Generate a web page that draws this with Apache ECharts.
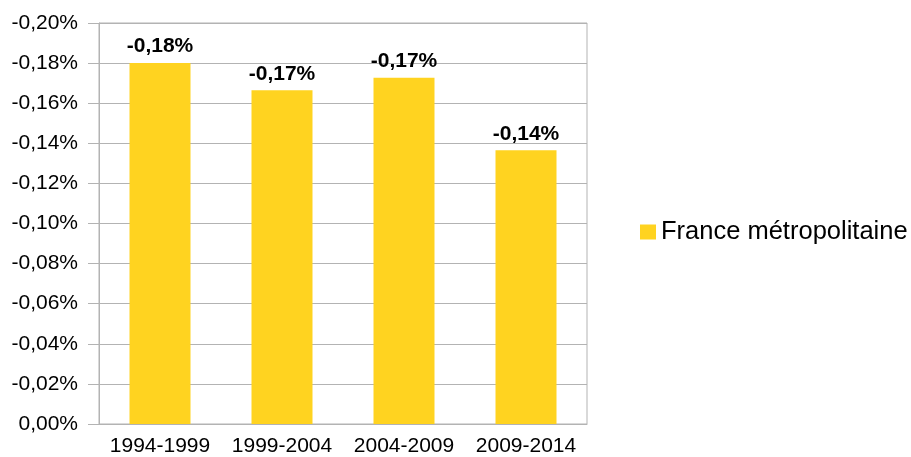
<!DOCTYPE html>
<html lang="fr">
<head>
    <meta charset="UTF-8" />
    <title>France métropolitaine</title>
    <script src="https://cdn.jsdelivr.net/npm/echarts@6.0.0/dist/echarts.min.js"></script>
    <style>
        html, body { margin: 0; padding: 0; background: #fff; }
    </style>
</head>
<body>
    <div id="main" style="width: 911px; height: 457px;"></div>

    <script>
        const periods = ['1994-1999', '1999-2004', '2004-2009', '2009-2014'];
        const seriesName = 'France métropolitaine';
        const rates = [-0.1801, -0.1664, -0.1727, -0.1365];

        const fmt = v => {
            const s = Math.abs(v) < 1e-9 ? '0,00' : v.toFixed(2).replace('.', ',');
            return s + '%';
        };

        const myChart = echarts.init(document.getElementById('main'));
        const gray = '#b3b3b3';
        const font = '"Liberation Sans", Arial, sans-serif';

        const options = {
            animation: false,
            textStyle: { fontFamily: font },
            grid: {
                left: 99, right: 324, top: 23, bottom: 31,
                show: true, borderColor: gray, borderWidth: 1,
                containLabel: false
            },
            legend: {
                left: 635, top: 214,
                itemWidth: 16, itemHeight: 15,
                itemGap: 10,
                icon: 'rect',
                textStyle: { fontSize: 25.5, color: '#000', fontFamily: font },
                data: [seriesName]
            },
            xAxis: {
                type: 'category',
                data: periods,
                axisLine: { lineStyle: { color: gray } },
                axisTick: { inside: true, length: 11, lineStyle: { color: gray } },
                axisLabel: { interval: 0, color: '#000', fontSize: 21, margin: 12, fontFamily: font }
            },
            yAxis: {
                type: 'value',
                inverse: true,
                min: -0.2,
                max: 0,
                interval: 0.02,
                axisLine: { show: true, lineStyle: { color: gray } },
                axisTick: { show: true, length: 11, lineStyle: { color: gray } },
                splitLine: { lineStyle: { color: gray } },
                axisLabel: { color: '#000', fontSize: 21, margin: 21, fontFamily: font, formatter: fmt }
            },
            series: [{
                name: seriesName,
                type: 'bar',
                data: rates,
                barWidth: '50%',
                itemStyle: { color: '#ffd320' },
                label: {
                    show: true,
                    position: 'top',
                    distance: 6,
                    color: '#000',
                    fontWeight: 'bold',
                    fontSize: 21,
                    fontFamily: font,
                    formatter: p => fmt(p.value)
                }
            }]
        };

        myChart.setOption(options);
    </script>
</body>
</html>
